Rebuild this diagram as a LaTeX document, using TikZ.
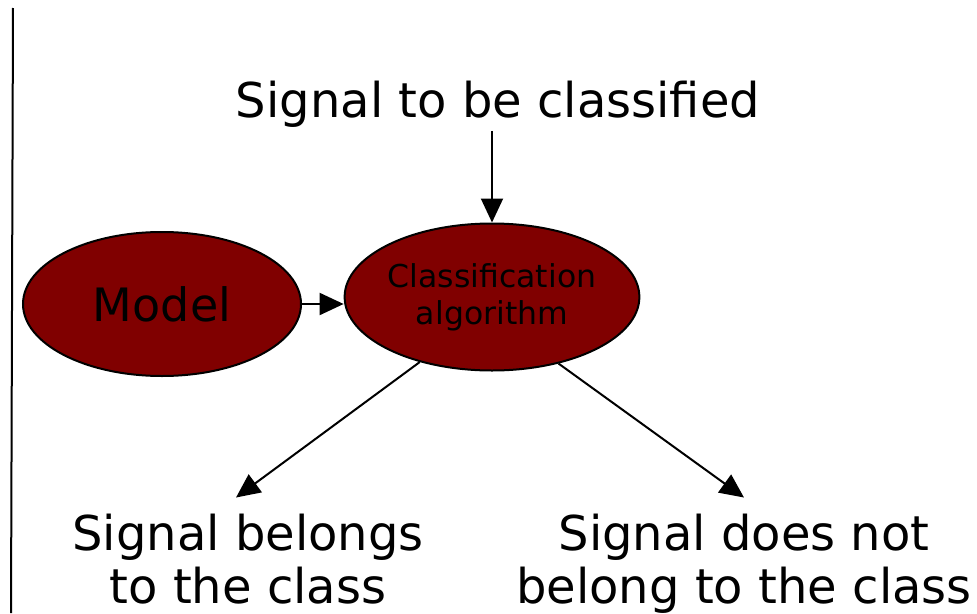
\documentclass[tikz,border=0pt]{standalone}
\usepackage{fontspec}
\setmainfont{DejaVu Sans}
\usetikzlibrary{shapes.geometric, arrows.meta, positioning, calc}
\definecolor{myMaroon}{RGB}{128,0,0}

\begin{document}
\begin{tikzpicture}[x=1pt, y=-1pt, line width=2pt,
	blob/.style={draw, black, fill=myMaroon, ellipse, inner sep=0pt},
	lbl/.style={font=\fontsize{48}{53}\selectfont, align=center, anchor=base, inner sep=3pt},
	arr/.style={-{Triangle[length=24pt, width=22pt]}}]
		\useasboundingbox (0,0) rectangle (977,613);
		% left rule
		\draw (13,8) -- (11,613);
		% Model
		\node[blob, minimum width=278pt, minimum height=144pt, font=\fontsize{46}{50}\selectfont] (m) at (162,304) {Model};
		% Classification algorithm
		\node[blob, minimum width=281pt, minimum height=147pt, align=center, font=\fontsize{31.5}{37}\selectfont] (c) at (492,297) {\raisebox{-3pt}{Classification}\\\raisebox{-3pt}{algorithm}};
		% input signal
		\node[lbl] (t) at (498,117) {Signal to be classified};
		% outcomes
		\node[lbl] (b1) at (248,603) {Signal belongs\\to the class};
		\node[lbl] (b2) at (744,603) {Signal does not\\belong to the class};
		% connectors
		\draw[arr] (t.south -| c.north) -- (c.north);
		\draw[arr] (m.east) -- (m.east -| c.west);
		\draw[arr] (c.-138) -- ([xshift=-12pt, yshift=12pt]b1.north);
		\draw[arr] (c.-45) -- ([yshift=12pt]b2.north);
	\end{tikzpicture}
\end{document}
